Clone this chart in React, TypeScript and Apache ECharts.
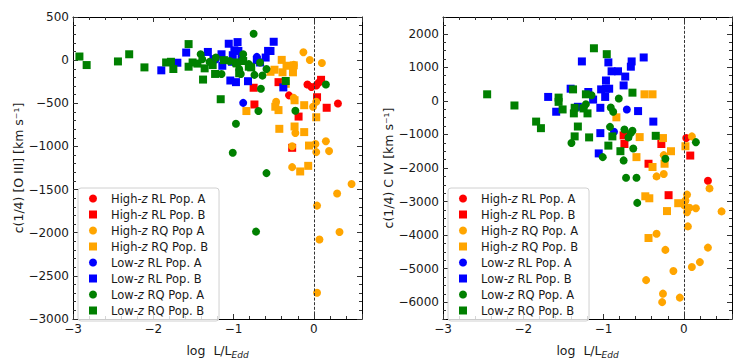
import React, { useEffect, useRef } from 'react';
import * as echarts from 'echarts';

type P = [number, number][];

// ---------- Left panel: c(1/4) [O III] ----------
const o3HighRLA: P = [[-0.08, -282], [-0.03, -312], [0.03, -293], [0.06, -262], [-0.31, -408], [0.30, -502]];
const o3HighRLB: P = [[-0.44, -255], [-0.75, -320], [-0.74, -514], [0.09, -228], [0.04, -430], [0.16, -552], [-0.19, -654], [-0.27, -1016]];
const o3HighRQA: P = [[-0.13, 92], [-0.05, 2], [0.10, -34], [-0.25, -55], [-0.47, -483], [-0.25, -437], [-0.01, -540], [0.03, -483], [-0.23, -845], [-0.27, -997], [0.02, -971], [0.03, -1066], [0.15, -940], [0.19, -1054], [-0.27, -1240], [0.47, -1435], [0.29, -1545], [0.04, -1686], [0.32, -1991], [0.07, -2078], [0.04, -2695]];
const o3HighRQB: P = [[-0.40, 3], [-0.34, -65], [-0.26, -141], [-0.39, -141], [-0.49, -111], [-0.54, -135], [-0.35, -274], [-0.24, -465], [-0.12, -522], [-0.44, -579], [-0.48, -540], [0.03, -662], [-0.24, -769], [-0.43, -796], [-0.12, -834], [-0.06, -990], [-0.07, -1225], [-0.17, -1290], [-0.84, -590], [-0.25, -60]];
const o3LowRLA: P = [[-0.88, -495], [-0.71, 38], [-1.22, 10]];
const o3LowRLB: P = [[-1.90, -118], [-1.70, -30], [-1.59, 88], [-1.32, 95], [-1.15, 68], [-1.06, 190], [-0.95, 209], [-0.99, 114], [-0.94, 107], [-1.01, 57], [-1.02, -19], [-1.04, -236], [-0.97, -255], [-0.82, -244], [-0.67, -27], [-0.60, 30], [-0.57, 107], [-0.50, 213], [-0.38, -316], [-1.14, -65], [-1.25, 11], [-0.90, 40], [-0.71, 0], [-0.54, 106]];
const o3LowRQA: P = [[-0.75, 305], [-1.41, 68], [-1.39, 11], [-1.22, 31], [-1.15, -160], [-0.93, -103], [-0.88, 68], [-0.91, -160], [-0.81, -46], [-0.74, -171], [-0.64, -179], [-0.66, -331], [-0.69, -590], [-0.67, -27], [-0.59, -103], [-0.97, -738], [-1.01, -1073], [-0.23, -586], [0.15, -282], [-0.59, -1309], [-0.72, -1987], [-1.30, -20], [-1.05, -10]];
const o3LowRQB: P = [[-2.92, 42], [-2.83, -57], [-2.44, -15], [-2.30, 68], [-2.11, -84], [-1.84, -27], [-1.78, -19], [-1.75, -103], [-1.56, 186], [-1.56, -76], [-1.51, -27], [-1.38, -225], [-1.36, -95], [-1.23, -160], [-1.16, -453], [-1.12, 0], [-1.26, -57], [-0.97, -27], [-0.78, -84], [-0.35, -242], [-0.96, -38], [-0.81, -76], [-0.93, -152], [-1.45, -40], [-0.88, -10]];

// ---------- Right panel: c(1/4) C IV ----------
const c4HighRLA: P = [[0.03, -1108], [0.30, -2381]];
const c4HighRLB: P = [[-0.75, -1029], [-0.74, -1285], [-0.28, -1285], [-0.44, -1873], [0.08, -1629], [-0.19, -2810]];
const c4HighRQA: P = [[0.10, -1058], [-0.25, -1617], [-0.34, -2250], [-0.25, -2180], [0.04, -2793], [0.02, -2970], [0.01, -3116], [0.15, -3200], [0.07, -3187], [0.04, -3320], [0.32, -2608], [0.47, -3293], [0.05, -3740], [-0.34, -3960], [0.30, -4372], [-0.23, -4440], [0.20, -4804], [0.10, -4951], [-0.13, -5069], [-0.47, -5342], [-0.26, -5745], [-0.27, -5998], [-0.05, -5862]];
const c4HighRQB: P = [[-0.49, 196], [-0.39, 196], [-0.84, -490], [-0.55, -1079], [-0.26, -1108], [-0.16, -1500], [0.02, -1352], [-0.59, -1676], [-0.39, -1970], [-0.24, -1873], [-0.48, -2843], [-0.43, -2902], [-0.21, -3284], [-0.07, -3049], [-0.44, -4087]];
const c4LowRLA: P = [[-0.71, -256], [-0.87, -920]];
const c4LowRLB: P = [[-1.27, 1176], [-0.94, 1147], [-0.90, 882], [-0.82, 882], [-0.73, 725], [-0.65, 1176], [-0.66, 1019], [-0.50, 1294], [-0.97, 608], [-0.97, 363], [-0.93, 363], [-1.03, 343], [-0.98, 118], [-1.13, 39], [-1.19, 265], [-1.41, 363], [-1.69, 118], [-1.59, -323], [-1.32, -176], [-1.04, -206], [-0.57, -304], [-0.38, -617], [-0.75, 461], [-1.04, -961], [-1.06, -1565]];
const c4LowRQA: P = [[-0.81, 69], [-1.22, -98], [-1.15, 167], [-0.91, -196], [-0.88, -323], [-0.92, -774], [-0.74, -853], [-0.66, -960], [-0.64, -892], [-0.69, -1088], [-0.63, -1421], [-1.40, -1254], [-1.01, -1676], [-0.75, -1774], [-0.72, -2290], [-0.59, -2290], [-0.23, -1725], [0.15, -1230], [-0.58, -3040], [-1.25, -210]];
const c4LowRQB: P = [[-2.45, 196], [-2.11, -137], [-1.12, 1568], [-0.96, 1392], [-1.84, -617], [-1.78, -813], [-1.56, 98], [-1.56, -29], [-1.51, -255], [-1.38, 343], [-1.36, -206], [-1.37, -372], [-1.32, -764], [-1.36, -1058], [-1.22, 196], [-1.20, -372], [-1.18, -1088], [-0.94, -1333], [-0.89, -1058], [-0.79, -1499], [-0.64, 245], [-0.35, -1041], [-1.25, -225]];

const O3_LABELS = ['High-z RL Pop. A', 'High-z RL Pop. B', 'High-z RQ Pop A', 'High-z RQ Pop. B', 'Low-z RL Pop. A', 'Low-z RL Pop. B', 'Low-z RQ Pop. A', 'Low-z RQ Pop. B'];
const C4_LABELS = ['High-z RL Pop. A', 'High-z RL Pop. B', 'High-z RQ Pop. A', 'High-z RQ Pop. B', 'Low-z RL Pop. A', 'Low-z RL Pop. B', 'Low-z RQ Pop. A', 'Low-z RQ Pop. B'];
const COLORS = ['#ff0000', '#ff0000', '#ffa500', '#ffa500', '#0000ff', '#0000ff', '#008000', '#008000'];
const SYMBOLS = ['circle', 'rect', 'circle', 'rect', 'circle', 'rect', 'circle', 'rect'];
const O3_DATA = [o3HighRLA, o3HighRLB, o3HighRQA, o3HighRQB, o3LowRLA, o3LowRLB, o3LowRQA, o3LowRQB];
const C4_DATA = [c4HighRLA, c4HighRLB, c4HighRQA, c4HighRQB, c4LowRLA, c4LowRLB, c4LowRQA, c4LowRQB];

const X_MIN = -3;
const X_MAX = 0.6;
const O3_MIN = -3000;
const O3_MAX = 500;
const C4_MIN = -6500;
const C4_MAX = 2500;
const C4_TICKS = [-6000, -5000, -4000, -3000, -2000, -1000, 0, 1000, 2000];
const EDDINGTON_LINE = 0;

const FONT = "'DejaVu Sans', 'Noto Sans', sans-serif";
const TXT = '#1a1a1a';
const TICK_FS = 12;
const NAME_FS = 12.5;
const LEG_FS = 11.5;
const minus = (v: number) => String(v).replace('-', '\u2212');

function xAxes(gridIndex: number) {
  const base = {
    type: 'value', gridIndex, min: X_MIN, max: X_MAX, interval: 1,
    axisLine: { show: true, onZero: false, lineStyle: { color: '#000', width: 1 } },
    axisTick: { show: true, inside: true, length: 5, lineStyle: { color: '#333' } },
    minorTick: { show: true, splitNumber: 5, length: 3, lineStyle: { color: '#333' } },
    splitLine: { show: false },
  };
  return [
    {
      ...base, position: 'bottom',
      axisLabel: { show: true, margin: 4, fontSize: TICK_FS, color: TXT, fontFamily: FONT, showMaxLabel: false, formatter: minus },
      name: '{a|log  L/L}{b|Edd}', nameLocation: 'middle', nameGap: 23,
      nameTextStyle: {
        color: TXT, fontFamily: FONT,
        rich: {
          a: { fontSize: NAME_FS, lineHeight: 17, color: TXT, fontFamily: FONT },
          b: { fontSize: 9, fontStyle: 'italic', color: TXT, fontFamily: FONT, verticalAlign: 'bottom', lineHeight: 9 },
        },
      },
    },
    { ...base, position: 'top', axisLabel: { show: false } },
  ];
}

function yAxes(gridIndex: number, name: string, isC4: boolean) {
  const line = { show: true, onZero: false, lineStyle: { color: '#000', width: 1 } };
  const label = { show: true, margin: 4, fontSize: TICK_FS, color: TXT, fontFamily: FONT, formatter: minus };
  const nameStyle = { fontSize: NAME_FS, color: TXT, fontFamily: FONT };
  if (!isC4) {
    const base = {
      type: 'value', gridIndex, min: O3_MIN, max: O3_MAX, interval: 500,
      axisLine: line,
      axisTick: { show: true, inside: true, length: 5, lineStyle: { color: '#333' } },
      minorTick: { show: true, splitNumber: 5, length: 3, lineStyle: { color: '#333' } },
      splitLine: { show: false },
    };
    return [
      { ...base, position: 'left', axisLabel: label, name, nameLocation: 'middle', nameGap: 46, nameTextStyle: nameStyle },
      { ...base, position: 'right', axisLabel: { show: false } },
    ];
  }
  const minorLayer = {
    type: 'value', gridIndex, min: C4_MIN, max: C4_MAX, interval: 250,
    axisLine: line,
    axisTick: { show: true, inside: true, length: 3, lineStyle: { color: '#333' } },
    axisLabel: { show: false },
    splitLine: { show: false },
  };
  const majorLayer = {
    type: 'value', gridIndex, min: C4_MIN, max: C4_MAX, interval: 250,
    axisLine: { show: false, onZero: false },
    axisTick: { show: true, inside: true, length: 5, customValues: C4_TICKS, lineStyle: { color: '#333' } },
    splitLine: { show: false },
  };
  return [
    { ...minorLayer, position: 'left' },
    { ...majorLayer, position: 'left', axisLabel: { ...label, customValues: C4_TICKS }, name, nameLocation: 'middle', nameGap: 46, nameTextStyle: nameStyle },
    { ...minorLayer, position: 'right' },
    { ...majorLayer, position: 'right', axisLabel: { show: false } },
  ];
}

const legendFormatter = (name: string) => {
  const label = name.split('|')[0];
  const parts = label.split('-z');
  return `{s|\u00a0}{n|${parts[0]}-}{i|z}{n|${parts[1]}}`;
};

function legend(left: number, labels: string[], key: string) {
  return {
    orient: 'vertical', left, top: 188,
    padding: [4, 11, 4, 11],
    itemWidth: 8, itemHeight: 8, itemGap: 3,
    borderColor: '#d0d0d0', borderWidth: 1, borderRadius: 3,
    backgroundColor: 'rgba(255,255,255,0.8)',
    selectedMode: false,
    data: labels.map((l, i) => ({ name: `${l}|${key}`, icon: SYMBOLS[i] })),
    formatter: legendFormatter,
    textStyle: {
      fontSize: LEG_FS, color: TXT, fontFamily: FONT, lineHeight: 13,
      rich: {
        s: { width: 9, lineHeight: 13, fontSize: LEG_FS },
        n: { fontSize: LEG_FS, lineHeight: 13, color: TXT, fontFamily: FONT },
        i: { fontSize: LEG_FS, lineHeight: 13, color: TXT, fontFamily: FONT, fontStyle: 'italic' },
      },
    },
  };
}

function panelSeries(labels: string[], data: P[], key: string, xIdx: number, yIdx: number) {
  const out: any[] = labels.map((l, i) => ({
    type: 'scatter', name: `${l}|${key}`, xAxisIndex: xIdx, yAxisIndex: yIdx,
    symbol: SYMBOLS[i], symbolSize: 8, z: 3,
    itemStyle: { color: COLORS[i], opacity: 1 },
    data: data[i],
  }));
  out.push({
    type: 'scatter', name: `line|${key}`, xAxisIndex: xIdx, yAxisIndex: yIdx, data: [], z: 1,
    markLine: {
      silent: true, symbol: ['none', 'none'], label: { show: false },
      lineStyle: { type: [3, 1.6], color: '#333', width: 1 },
      data: [{ xAxis: EDDINGTON_LINE }],
    },
  });
  return out;
}

export default function App() {
  const ref = useRef<HTMLDivElement>(null);
  useEffect(() => {
    if (!ref.current) return;
    const chart = echarts.init(ref.current, undefined, { renderer: 'svg' });
    chart.setOption({
      animation: false,
      backgroundColor: '#fff',
      grid: [
        { left: 73, top: 17, width: 289, height: 306, show: false },
        { left: 443, top: 17, width: 289, height: 306, show: false },
      ],
      xAxis: [...xAxes(0), ...xAxes(1)],
      yAxis: [
        ...yAxes(0, 'c(1/4) [O III] [km s\u207B\u00B9]', false),
        ...yAxes(1, 'c(1/4) C IV [km s\u207B\u00B9]', true),
      ],
      legend: [legend(78, O3_LABELS, 'L'), legend(448, C4_LABELS, 'R')],
      series: [
        ...panelSeries(O3_LABELS, O3_DATA, 'L', 0, 0),
        ...panelSeries(C4_LABELS, C4_DATA, 'R', 2, 3),
      ],
    });
    return () => chart.dispose();
  }, []);
  return (
    <div style={{ position: 'absolute', left: 0, top: 0, width: 745, height: 364, background: '#fff' }}>
      <div ref={ref} style={{ width: 745, height: 364 }} />
    </div>
  );
}
